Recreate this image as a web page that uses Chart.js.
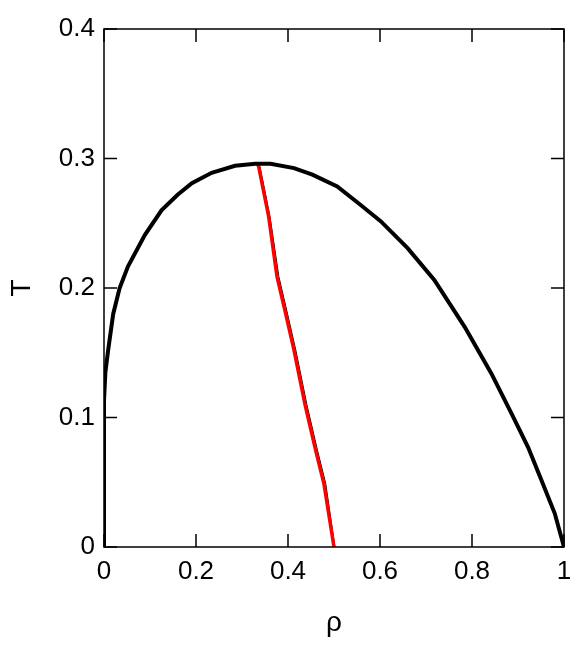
<!DOCTYPE html>
<html>
<head>
<meta charset="utf-8">
<script src="https://cdn.jsdelivr.net/npm/chart.js@4.4.1/dist/chart.umd.min.js"></script>
<style>
  html, body { margin: 0; padding: 0; background: #fff; }
  #wrap { width: 581px; height: 648px; }
</style>
</head>
<body>
<div id="wrap"><canvas id="phase-area"></canvas></div>
<script>
//////////////////
// Phase diagram (binodal + diameter)

var binodalRho = [0, 0, 0, 0.003, 0.009, 0.02, 0.034, 0.052, 0.089, 0.125, 0.16, 0.191, 0.234, 0.285, 0.329, 0.362, 0.413, 0.453, 0.507, 0.558, 0.602, 0.66, 0.718, 0.784, 0.842, 0.886, 0.922, 0.951, 0.98, 1.0];
var binodalT   = [0, 0.05, 0.113, 0.135, 0.152, 0.18, 0.2, 0.2166, 0.241, 0.26, 0.272, 0.281, 0.289, 0.2944, 0.296, 0.296, 0.2926, 0.2875, 0.2784, 0.2641, 0.2514, 0.2308, 0.2063, 0.170, 0.134, 0.103, 0.077, 0.0516, 0.0258, 0];

var diamRho = [0.333, 0.336, 0.358, 0.376, 0.395, 0.413, 0.437, 0.46, 0.478, 0.5];
var diamT   = [0.296, 0.294, 0.255, 0.209, 0.18, 0.152, 0.11, 0.0748, 0.049, 0];

// simulated diameter (thin black, sits on the right edge of the fit)
var diamSimRho = [0.333, 0.339, 0.361, 0.38, 0.399, 0.417, 0.441, 0.464, 0.482, 0.502];
var diamSimT   = [0.296, 0.294, 0.255, 0.209, 0.18, 0.152, 0.11, 0.0748, 0.049, 0];

var xTicks = [0, 0.2, 0.4, 0.6, 0.8, 1];
var yTicks = [0, 0.1, 0.2, 0.3, 0.4];

function toPoints(xs, ys) {
  return xs.map(function (x, i) { return { x: x, y: ys[i] }; });
}

var tickFont = { family: "'Liberation Sans', Arial, sans-serif", size: 26 };
var titleFont = { family: "'Liberation Sans', Arial, sans-serif", size: 28 };

// box + inward ticks on all four sides
var frameTicks = {
  id: 'frameTicks',
  afterDraw: function (chart) {
    var ctx = chart.ctx, a = chart.chartArea;
    var xs = chart.scales.x, ys = chart.scales.y;
    var len = 13;
    ctx.save();
    ctx.strokeStyle = '#000';
    ctx.lineWidth = 1.5;
    ctx.strokeRect(a.left, a.top, a.right - a.left, a.bottom - a.top);
    ctx.beginPath();
    xTicks.forEach(function (v) {
      var px = xs.getPixelForValue(v);
      ctx.moveTo(px, a.bottom); ctx.lineTo(px, a.bottom - len);
      ctx.moveTo(px, a.top); ctx.lineTo(px, a.top + len);
    });
    yTicks.forEach(function (v) {
      var py = ys.getPixelForValue(v);
      ctx.moveTo(a.left, py); ctx.lineTo(a.left + len, py);
      ctx.moveTo(a.right, py); ctx.lineTo(a.right - len, py);
    });
    ctx.stroke();
    ctx.restore();
  }
};

function noPad(s) {
  s.paddingLeft = 0; s.paddingRight = 0; s.paddingTop = 0; s.paddingBottom = 0;
}

var phaseConfig = {
  type: 'scatter',
  data: {
    datasets: [{
      label: 'binodal',
      data: toPoints(binodalRho, binodalT),
      showLine: true,
      borderColor: '#000',
      borderWidth: 4,
      pointRadius: 0,
      tension: 0
    }, {
      label: 'diameter fit',
      data: toPoints(diamRho, diamT),
      showLine: true,
      borderColor: '#ff0000',
      borderWidth: 3.5,
      pointRadius: 0,
      tension: 0
    }, {
      label: 'diameter',
      data: toPoints(diamSimRho, diamSimT),
      showLine: true,
      borderColor: '#000',
      borderWidth: 1,
      pointRadius: 0,
      tension: 0
    }]
  },
  options: {
    responsive: true,
    maintainAspectRatio: false,
    animation: false,
    layout: { padding: { top: 29, right: 17, left: 0, bottom: 0 } },
    plugins: {
      legend: { display: false },
      tooltip: { enabled: false }
    },
    scales: {
      x: {
        type: 'linear',
        min: 0, max: 1,
        afterFit: function (s) { s.height = 101; noPad(s); },
        afterBuildTicks: function (s) { s.ticks = xTicks.map(function (v) { return { value: v }; }); },
        grid: { display: false, drawTicks: false },
        border: { display: false },
        ticks: { color: '#000', font: tickFont, padding: 9, maxRotation: 0,
                 callback: function (v) { return String(v); } },
        title: { display: true, text: 'ρ', color: '#000', font: titleFont, padding: { top: 0, bottom: 8 } }
      },
      y: {
        type: 'linear',
        min: 0, max: 0.4,
        afterFit: function (s) { s.width = 104; noPad(s); },
        afterBuildTicks: function (s) { s.ticks = yTicks.map(function (v) { return { value: v }; }); },
        grid: { display: false, drawTicks: false },
        border: { display: false },
        ticks: { color: '#000', font: tickFont, padding: 9,
                 callback: function (v) { return String(v); } },
        title: { display: true, text: 'T', color: '#000', font: titleFont, padding: { top: 5, bottom: 0 } }
      }
    }
  },
  plugins: [frameTicks]
};

var ctxPhase = document.getElementById('phase-area').getContext('2d');
var chartPhase = new Chart(ctxPhase, phaseConfig);
</script>
</body>
</html>
